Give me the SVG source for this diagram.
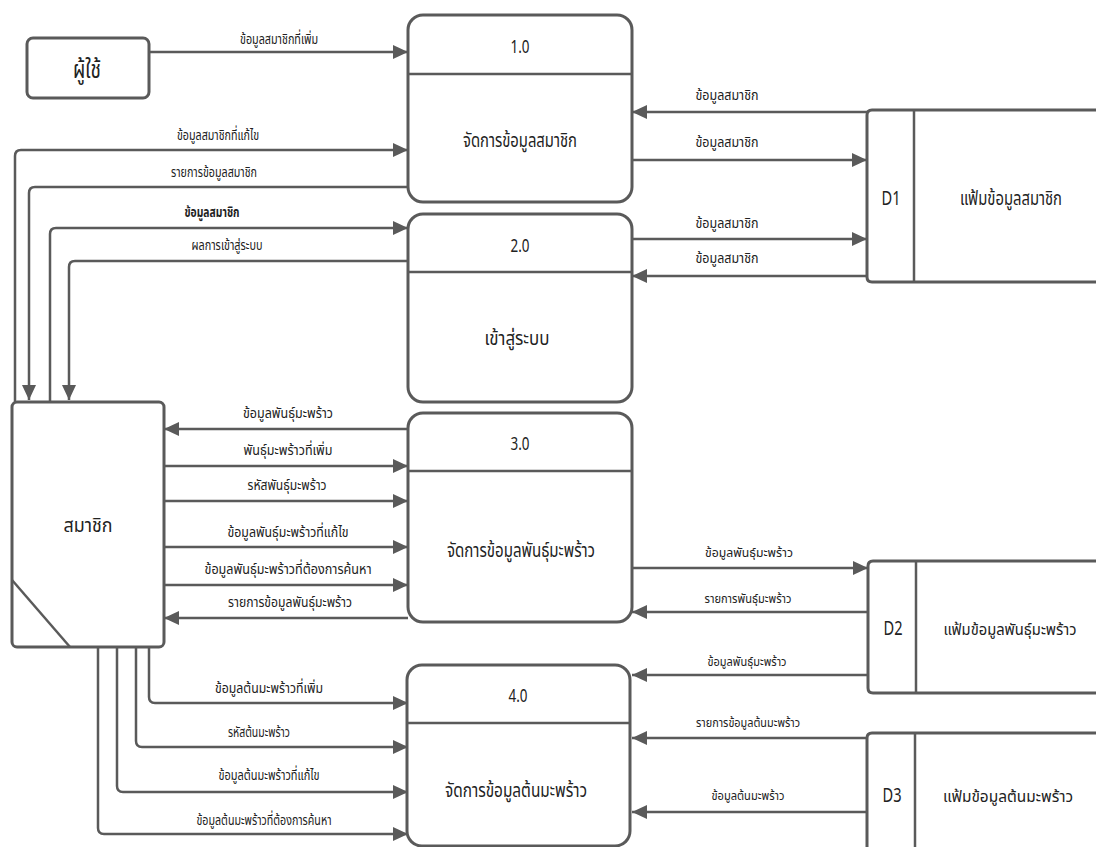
<svg xmlns="http://www.w3.org/2000/svg" width="1096" height="847" viewBox="0 0 1096 847">
<style>
.box{fill:#ffffff;stroke:#5a5a5a;stroke-width:3}
.ln{fill:none;stroke:#5a5a5a;stroke-width:2.5}
.fl{fill:none;stroke:#5a5a5a;stroke-width:2.5;marker-end:url(#ah)}
text{font-family:"Noto Sans Thai","Noto Sans","DejaVu Sans",sans-serif;fill:#222;text-anchor:middle}
.lb{font-size:14.5px}
.sm{font-size:13px}
.pn{font-size:18px}
.pt{font-size:20px}
.ds{font-size:19px}
.dn{font-size:16px}
</style>
<defs>
<marker id="ah" markerUnits="userSpaceOnUse" markerWidth="16" markerHeight="14" refX="15" refY="7" orient="auto">
<path d="M0,0 L15,7 L0,14 z" fill="#5a5a5a"/>
</marker>
</defs>
<rect width="1096" height="847" fill="#ffffff"/>

<g id="connectors">
<path class="fl" d="M149,52 H408"/>
<path class="fl" d="M15,402 V156 Q15,150 21,150 H408"/>
<path class="fl" d="M408,187 H35 Q29,187 29,193 V400"/>
<path class="fl" d="M50,402 V234 Q50,228 56,228 H408"/>
<path class="fl" d="M408,261 H75 Q69,261 69,267 V400"/>
<path class="fl" d="M867,112 H632"/>
<path class="fl" d="M632,160 H867"/>
<path class="fl" d="M632,239 H867"/>
<path class="fl" d="M867,276 H632"/>
<path class="fl" d="M408,429 H164"/>
<path class="fl" d="M164,466 H408"/>
<path class="fl" d="M164,501 H408"/>
<path class="fl" d="M164,547 H408"/>
<path class="fl" d="M164,585 H408"/>
<path class="fl" d="M408,618 H164"/>
<path class="fl" d="M632,568 H868"/>
<path class="fl" d="M868,612 H632"/>
<path class="fl" d="M868,675 H632"/>
<path class="fl" d="M867,738 H632"/>
<path class="fl" d="M867,812 H632"/>
<path class="fl" d="M149,647 V697 Q149,703 155,703 H408"/>
<path class="fl" d="M136,647 V741 Q136,747 142,747 H408"/>
<path class="fl" d="M117,647 V786 Q117,792 123,792 H408"/>
<path class="fl" d="M98,647 V828 Q98,834 104,834 H408"/>

<text class="lb" x="279" y="44" textLength="78" lengthAdjust="spacingAndGlyphs">ข้อมูลสมาชิกที่เพิ่ม</text>
<text class="lb" x="218" y="140" textLength="82" lengthAdjust="spacingAndGlyphs">ข้อมูลสมาชิกที่แก้ไข</text>
<text class="lb" x="214" y="177" textLength="86" lengthAdjust="spacingAndGlyphs">รายการข้อมูลสมาชิก</text>
<text class="lb" x="212" y="217" font-weight="bold" textLength="55" lengthAdjust="spacingAndGlyphs">ข้อมูลสมาชิก</text>
<text class="lb" x="227" y="250" textLength="71" lengthAdjust="spacingAndGlyphs">ผลการเข้าสู่ระบบ</text>

<text class="lb" x="727" y="100" textLength="63" lengthAdjust="spacingAndGlyphs">ข้อมูลสมาชิก</text>
<text class="lb" x="727" y="147" textLength="63" lengthAdjust="spacingAndGlyphs">ข้อมูลสมาชิก</text>
<text class="lb" x="727" y="228" textLength="63" lengthAdjust="spacingAndGlyphs">ข้อมูลสมาชิก</text>
<text class="lb" x="727" y="263" textLength="63" lengthAdjust="spacingAndGlyphs">ข้อมูลสมาชิก</text>

<text class="lb" x="288" y="418" textLength="90" lengthAdjust="spacingAndGlyphs">ข้อมูลพันธุ์มะพร้าว</text>
<text class="lb" x="288" y="455" textLength="89" lengthAdjust="spacingAndGlyphs">พันธุ์มะพร้าวที่เพิ่ม</text>
<text class="lb" x="287" y="490" textLength="79" lengthAdjust="spacingAndGlyphs">รหัสพันธุ์มะพร้าว</text>
<text class="lb" x="288" y="537" textLength="121" lengthAdjust="spacingAndGlyphs">ข้อมูลพันธุ์มะพร้าวที่แก้ไข</text>
<text class="lb" x="288" y="574" textLength="167" lengthAdjust="spacingAndGlyphs">ข้อมูลพันธุ์มะพร้าวที่ต้องการค้นหา</text>
<text class="lb" x="290" y="607" textLength="124" lengthAdjust="spacingAndGlyphs">รายการข้อมูลพันธุ์มะพร้าว</text>

<text class="sm" x="749" y="557" textLength="88" lengthAdjust="spacingAndGlyphs">ข้อมูลพันธุ์มะพร้าว</text>
<text class="sm" x="748" y="603" textLength="87" lengthAdjust="spacingAndGlyphs">รายการพันธุ์มะพร้าว</text>
<text class="sm" x="747" y="666" textLength="79" lengthAdjust="spacingAndGlyphs">ข้อมูลพันธุ์มะพร้าว</text>
<text class="sm" x="748" y="727" textLength="104" lengthAdjust="spacingAndGlyphs">รายการข้อมูลต้นมะพร้าว</text>
<text class="sm" x="748" y="800" textLength="73" lengthAdjust="spacingAndGlyphs">ข้อมูลต้นมะพร้าว</text>

<text class="lb" x="269" y="693" textLength="108" lengthAdjust="spacingAndGlyphs">ข้อมูลต้นมะพร้าวที่เพิ่ม</text>
<text class="lb" x="259" y="737" textLength="62" lengthAdjust="spacingAndGlyphs">รหัสต้นมะพร้าว</text>
<text class="lb" x="269" y="780" textLength="101" lengthAdjust="spacingAndGlyphs">ข้อมูลต้นมะพร้าวที่แก้ไข</text>
<text class="lb" x="264" y="825" textLength="135" lengthAdjust="spacingAndGlyphs">ข้อมูลต้นมะพร้าวที่ต้องการค้นหา</text>
</g>

<g id="user">
<rect class="box" x="27" y="38" width="122" height="60" rx="6"/>
<text x="87" y="78" font-size="24" textLength="28" lengthAdjust="spacingAndGlyphs">ผู้ใช้</text>
</g>

<g id="member">
<rect class="box" x="12" y="402" width="152" height="245" rx="5"/>
<path class="ln" d="M12,580 L70,647"/>
<text x="88" y="532" font-size="20" textLength="49" lengthAdjust="spacingAndGlyphs">สมาชิก</text>
</g>

<g id="p1">
<rect class="box" x="408" y="15" width="224" height="187" rx="15"/>
<path class="ln" d="M408,74 H632" stroke-width="3"/>
<text class="pn" x="520" y="53" textLength="19" lengthAdjust="spacingAndGlyphs">1.0</text>
<text class="pt" x="520" y="147" textLength="114" lengthAdjust="spacingAndGlyphs">จัดการข้อมูลสมาชิก</text>
</g>

<g id="p2">
<rect class="box" x="408" y="214" width="224" height="188" rx="15"/>
<path class="ln" d="M408,272 H632" stroke-width="3"/>
<text class="pn" x="520" y="252" textLength="19" lengthAdjust="spacingAndGlyphs">2.0</text>
<text class="pt" x="517" y="345" textLength="65" lengthAdjust="spacingAndGlyphs">เข้าสู่ระบบ</text>
</g>

<g id="p3">
<rect class="box" x="408" y="413" width="224" height="209" rx="15"/>
<path class="ln" d="M408,471 H632" stroke-width="3"/>
<text class="pn" x="520" y="450" textLength="19" lengthAdjust="spacingAndGlyphs">3.0</text>
<text class="pt" x="521" y="557" textLength="148" lengthAdjust="spacingAndGlyphs">จัดการข้อมูลพันธุ์มะพร้าว</text>
</g>

<g id="p4">
<rect class="box" x="407" y="665" width="223" height="181" rx="15"/>
<path class="ln" d="M407,723 H630" stroke-width="3"/>
<text class="pn" x="518" y="702" textLength="19" lengthAdjust="spacingAndGlyphs">4.0</text>
<text class="pt" x="516" y="797" textLength="142" lengthAdjust="spacingAndGlyphs">จัดการข้อมูลต้นมะพร้าว</text>
</g>

<g id="d1">
<path class="box" d="M1100,110 H872 Q867,110 867,115 V277 Q867,282 872,282 H1100"/>
<path class="ln" d="M914,110 V282" stroke-width="3"/>
<text class="ds" x="891" y="205" textLength="19" lengthAdjust="spacingAndGlyphs">D1</text>
<text class="ds" x="1011" y="205" textLength="102" lengthAdjust="spacingAndGlyphs">แฟ้มข้อมูลสมาชิก</text>
</g>

<g id="d2">
<path class="box" d="M1100,561 H873 Q868,561 868,566 V688 Q868,693 873,693 H1100"/>
<path class="ln" d="M916,561 V693" stroke-width="3"/>
<text class="ds" x="893" y="635" textLength="19" lengthAdjust="spacingAndGlyphs">D2</text>
<text class="dn" x="1010" y="635" textLength="133" lengthAdjust="spacingAndGlyphs">แฟ้มข้อมูลพันธุ์มะพร้าว</text>
</g>

<g id="d3">
<path class="box" d="M1100,733 H872 Q867,733 867,738 V850"/>
<path class="ln" d="M915,733 V850" stroke-width="3"/>
<text class="ds" x="892" y="802" textLength="19" lengthAdjust="spacingAndGlyphs">D3</text>
<text class="dn" x="1008" y="802" textLength="130" lengthAdjust="spacingAndGlyphs">แฟ้มข้อมูลต้นมะพร้าว</text>
</g>
</svg>
